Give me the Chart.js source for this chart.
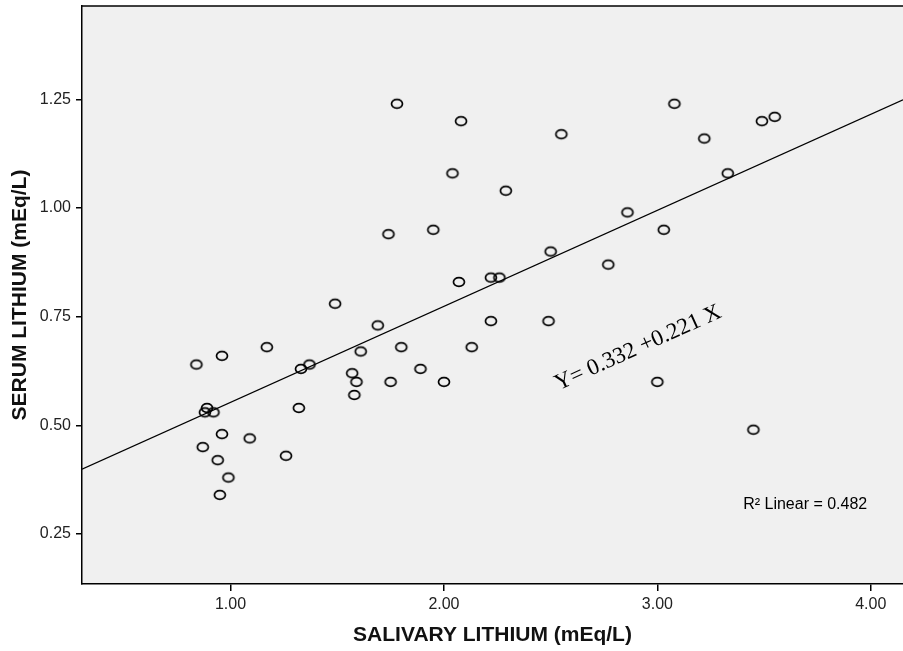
<!DOCTYPE html>
<html>
<head>
<meta charset="utf-8">
<title>Serum vs salivary lithium</title>
<script src="https://cdn.jsdelivr.net/npm/chart.js@4.4.1/dist/chart.umd.min.js"></script>
<style>
    html, body { margin: 0; padding: 0; background: #fff; overflow: hidden; }
    #wrap { width: 903px; height: 651px; }
    #chart { display: block; }
</style>
</head>
<body>
<div id="wrap"><canvas id="chart" width="903" height="651"></canvas></div>
<script>
// Salivary lithium (x) and serum lithium (y), mEq/L
const salivary = [0.84, 0.96, 1.17, 0.89, 0.88, 0.92, 0.96, 0.87, 0.94, 0.99,
                  0.95, 1.09, 1.26, 1.32, 1.33, 1.37, 1.49, 1.69, 1.61, 1.57,
                  1.59, 1.58, 1.80, 1.75, 1.89, 2.00, 1.74, 1.95, 1.78, 2.08,
                  2.04, 2.07, 2.22, 2.26, 2.29, 2.13, 2.22, 2.49, 2.50, 2.55,
                  2.77, 2.86, 3.00, 3.03, 3.08, 3.22, 3.33, 3.45, 3.49, 3.55];
const serum = [0.64, 0.66, 0.68, 0.54, 0.53, 0.53, 0.48, 0.45, 0.42, 0.38,
               0.34, 0.47, 0.43, 0.54, 0.63, 0.64, 0.78, 0.73, 0.67, 0.62,
               0.60, 0.57, 0.68, 0.60, 0.63, 0.60, 0.94, 0.95, 1.24, 1.20,
               1.08, 0.83, 0.84, 0.84, 1.04, 0.68, 0.74, 0.74, 0.90, 1.17,
               0.87, 0.99, 0.60, 0.95, 1.24, 1.16, 1.08, 0.49, 1.20, 1.21];

// Fit line end points (Y = 0.332 + 0.221 X) at the plot edges
const fitX = [0.304, 4.151];
const fitY = [0.399, 1.249];

const xTicks = [1, 2, 3, 4];
const yTicks = [0.25, 0.50, 0.75, 1.00, 1.25];

const equationText = 'Y= 0.332 +0.221 X';
const r2Text = 'R\u00B2 Linear = 0.482';

// Open ellipse marker like the SPSS one
function makeMarker() {
    const c = document.createElement('canvas');
    c.width = 16;
    c.height = 14;
    const g = c.getContext('2d');
    g.strokeStyle = '#000';
    g.lineWidth = 1.7;
    g.beginPath();
    g.ellipse(8, 7, 5.5, 4.4, 0, 0, Math.PI * 2);
    g.stroke();
    return c;
}

const tickFont = { family: 'Arial, "Liberation Sans", sans-serif', size: 16 };
const titleFont = { family: 'Arial, "Liberation Sans", sans-serif', size: 21, weight: 'bold' };

const framePlugin = {
    id: 'frame',
    beforeDraw(chart) {
        const { ctx, chartArea: a } = chart;
        ctx.save();
        ctx.fillStyle = '#fff';
        ctx.fillRect(0, 0, chart.width, chart.height);
        ctx.fillStyle = '#f0f0f0';
        ctx.fillRect(a.left, a.top, a.right - a.left, a.bottom - a.top);
        ctx.restore();
    },
    afterDraw(chart) {
        const { ctx, chartArea: a, scales } = chart;
        ctx.save();
        // top border
        ctx.strokeStyle = '#000';
        ctx.lineWidth = 1.5;
        ctx.beginPath();
        ctx.moveTo(a.left, a.top);
        ctx.lineTo(a.right, a.top);
        ctx.stroke();

        // equation along the fit line
        const x0 = scales.x.getPixelForValue(fitX[0]);
        const y0 = scales.y.getPixelForValue(fitY[0]);
        const x1 = scales.x.getPixelForValue(fitX[1]);
        const y1 = scales.y.getPixelForValue(fitY[1]);
        const angle = Math.atan2(y1 - y0, x1 - x0);
        ctx.translate(scales.x.getPixelForValue(2.91), scales.y.getPixelForValue(0.678));
        ctx.rotate(angle);
        ctx.fillStyle = '#000';
        ctx.font = '23px "Times New Roman", "Liberation Serif", serif';
        ctx.textAlign = 'center';
        ctx.textBaseline = 'middle';
        ctx.fillText(equationText, 0, 0);
        ctx.restore();

        ctx.save();
        ctx.fillStyle = '#000';
        ctx.font = '16px Arial, "Liberation Sans", sans-serif';
        ctx.textAlign = 'left';
        ctx.textBaseline = 'middle';
        ctx.fillText(r2Text, scales.x.getPixelForValue(3.402), scales.y.getPixelForValue(0.317));
        ctx.restore();
    }
};

new Chart(document.getElementById('chart'), {
    type: 'scatter',
    data: {
        datasets: [
            {
                label: 'Serum lithium',
                data: salivary.map((v, i) => ({ x: v, y: serum[i] })),
                pointStyle: makeMarker(),
                pointRadius: 5,
                pointHoverRadius: 5
            },
            {
                type: 'line',
                label: 'Fit',
                data: fitX.map((v, i) => ({ x: v, y: fitY[i] })),
                borderColor: '#000',
                borderWidth: 1.2,
                pointRadius: 0,
                fill: false,
                tension: 0
            }
        ]
    },
    options: {
        responsive: false,
        animation: false,
        events: [],
        layout: { autoPadding: false, padding: { top: 6, right: 0, bottom: 0, left: 0 } },
        plugins: {
            legend: { display: false },
            tooltip: { enabled: false }
        },
        scales: {
            x: {
                type: 'linear',
                position: 'bottom',
                min: 0.304,
                max: 4.151,
                afterBuildTicks: s => { s.ticks = xTicks.map(v => ({ value: v })); },
                afterFit: s => { s.height = 67; s.paddingLeft = 0; s.paddingRight = 0; },
                ticks: {
                    callback: v => Number(v).toFixed(2),
                    font: tickFont,
                    color: '#222',
                    padding: 4,
                    maxRotation: 0,
                    autoSkip: false
                },
                grid: { drawOnChartArea: false, tickLength: 7, color: '#000', lineWidth: 1.5 },
                border: { color: '#000', width: 1.5 },
                title: {
                    display: true,
                    text: 'SALIVARY LITHIUM (mEq/L)',
                    font: titleFont,
                    color: '#111',
                    padding: { top: 0, bottom: 3 }
                }
            },
            y: {
                type: 'linear',
                min: 0.135,
                max: 1.465,
                afterBuildTicks: s => { s.ticks = yTicks.map(v => ({ value: v })); },
                afterFit: s => { s.width = 82; s.paddingTop = 0; s.paddingBottom = 0; },
                ticks: {
                    callback: v => Number(v).toFixed(2),
                    font: tickFont,
                    color: '#222',
                    padding: 5,
                    autoSkip: false
                },
                grid: { drawOnChartArea: false, tickLength: 6, color: '#000', lineWidth: 1.5 },
                border: { color: '#000', width: 1.5 },
                title: {
                    display: true,
                    text: 'SERUM LITHIUM (mEq/L)',
                    font: titleFont,
                    color: '#111',
                    padding: { top: 8, bottom: 0 }
                }
            }
        }
    },
    plugins: [framePlugin]
});
</script>
</body>
</html>
